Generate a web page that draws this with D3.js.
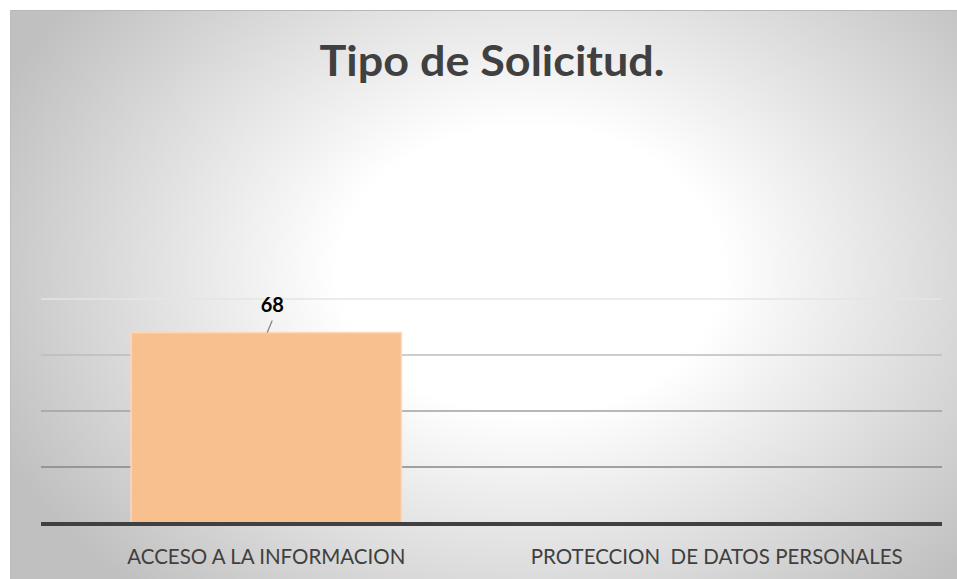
<!DOCTYPE html>
<html><head><meta charset="utf-8">
<script src="https://cdn.jsdelivr.net/npm/d3@7"></script>
<style>html,body{margin:0;padding:0;background:#fff;}svg{display:block;}</style>
</head><body>
<svg id="chart" width="957" height="579"></svg>
<script>
const title = "Tipo de Solicitud.";
const categories = ["ACCESO A LA INFORMACION", "PROTECCION  DE DATOS PERSONALES"];
const values = [68, 0];
const yTicks = [0, 20, 40, 60, 80];
const gridColors = ["#e4e4e4", "#bcbcbc", "#a0a0a0", "#868686"];

const svg = d3.select("#chart");
const W = 957, H = 579;
const defs = svg.append("defs");
const rg = defs.append("radialGradient").attr("id", "bg")
  .attr("gradientUnits", "userSpaceOnUse")
  .attr("cx", 530).attr("cy", 270).attr("r", 580)
  .attr("gradientTransform", "translate(530,270) scale(1,0.75) translate(-530,-270)");
rg.append("stop").attr("offset", 0).attr("stop-color", "#ffffff");
rg.append("stop").attr("offset", 0.33).attr("stop-color", "#ffffff");
rg.append("stop").attr("offset", 1).attr("stop-color", "#c0c0c0");

svg.append("rect").attr("x", 10).attr("y", 10).attr("width", W - 10).attr("height", H - 10)
  .attr("fill", "url(#bg)");
svg.append("line").attr("x1", 10).attr("x2", W).attr("y1", 10.5).attr("y2", 10.5)
  .attr("stroke", "#b8b8b8").attr("stroke-width", 1);
svg.append("line").attr("x1", 10.5).attr("x2", 10.5).attr("y1", 10).attr("y2", H)
  .attr("stroke", "#bdbdbd").attr("stroke-width", 1);

const m = {left: 41, right: 942, top: 299, bottom: 523};
const x = d3.scaleBand().domain(categories).range([m.left, m.right]).paddingInner(0.4).paddingOuter(0.2);
const y = d3.scaleLinear().domain([0, 80]).range([m.bottom, m.top]);

svg.append("text").attr("x", 492).attr("y", 76).attr("text-anchor", "middle")
  .attr("font-family", "Lato, 'Open Sans', sans-serif").attr("font-weight", "bold")
  .attr("font-size", 42).attr("fill", "#404040").attr("textLength", 345)
  .attr("lengthAdjust", "spacingAndGlyphs").text(title);

// gridlines
svg.append("g").selectAll("line").data(yTicks.slice(1).reverse()).join("line")
  .attr("x1", m.left).attr("x2", m.right)
  .attr("y1", d => y(d)).attr("y2", d => y(d))
  .attr("stroke", (d, i) => gridColors[i]).attr("stroke-width", 1.3);

// bars
svg.append("g").selectAll("rect").data(values).join("rect")
  .attr("x", (d, i) => x(categories[i]))
  .attr("width", x.bandwidth())
  .attr("y", d => y(d)).attr("height", d => y(0) - y(d))
  .attr("fill", "#f9c08f").attr("stroke", "#fcd8b8").attr("stroke-width", 1.5)
  .style("display", d => d > 0 ? null : "none");

// baseline
svg.append("line").attr("x1", m.left).attr("x2", m.right)
  .attr("y1", y(0) + 1).attr("y2", y(0) + 1)
  .attr("stroke", "#404040").attr("stroke-width", 4);

// data label with leader line
values.forEach((v, i) => {
  if (v <= 0) return;
  const cx = x(categories[i]) + x.bandwidth() / 2;
  svg.append("line").attr("x1", cx + 1).attr("y1", y(v)).attr("x2", cx + 6).attr("y2", y(v) - 12)
    .attr("stroke", "#7f7f7f").attr("stroke-width", 1.2);
  svg.append("text").attr("x", cx + 6).attr("y", y(v) - 21).attr("text-anchor", "middle")
    .attr("font-family", "Lato, 'Open Sans', sans-serif").attr("font-weight", "bold")
    .attr("font-size", 20).attr("fill", "#000").text(v);
});

// category labels
const xAxis = d3.axisBottom(x).tickSize(0).tickPadding(0);
const gx = svg.append("g").attr("transform", `translate(0,${y(0)})`).call(xAxis);
gx.select(".domain").remove();
gx.selectAll("text").attr("dy", 0).attr("y", 40.5)
  .attr("font-family", "Lato, 'Open Sans', sans-serif").attr("font-size", 20.5)
  .attr("fill", "#404040").style("white-space", "pre");
</script>
</body></html>
